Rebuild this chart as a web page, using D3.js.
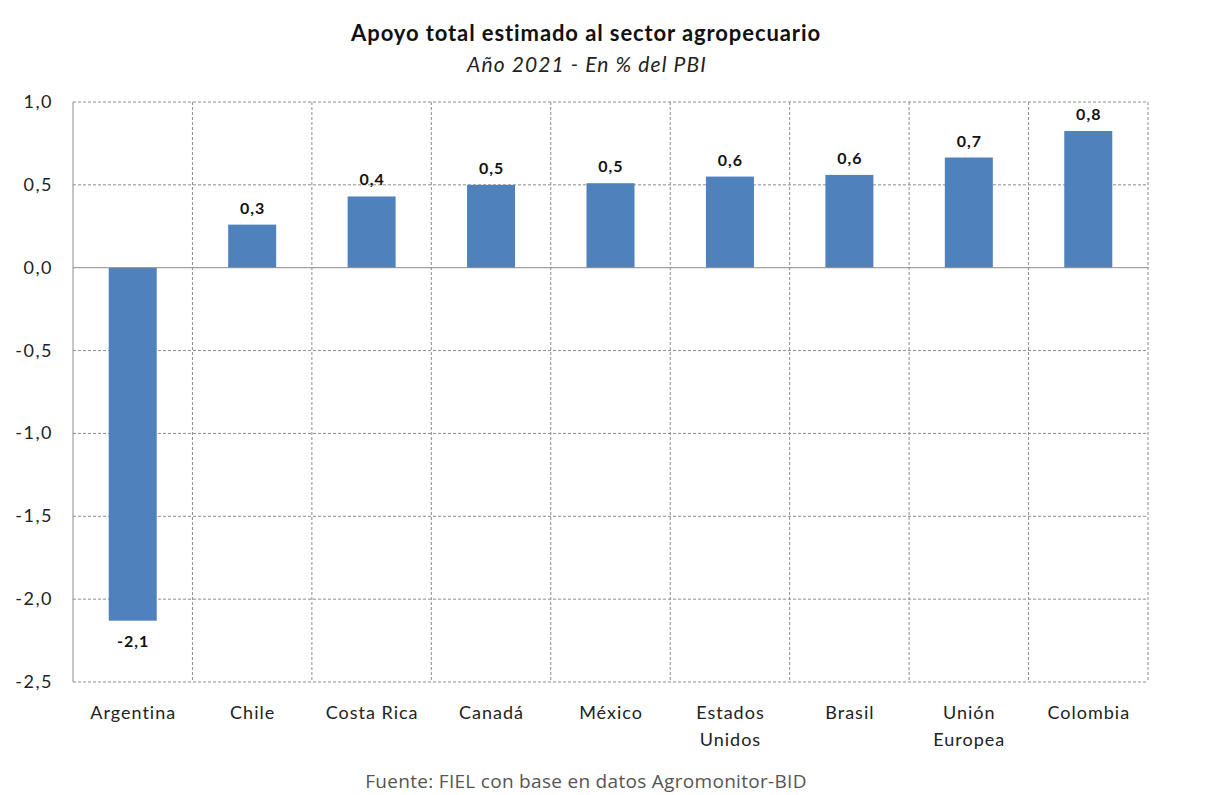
<!DOCTYPE html>
<html><head><meta charset="utf-8">
<script src="https://cdn.jsdelivr.net/npm/d3@7"></script>
<style>
body{margin:0;background:#fff;}
text{font-family:Lato,"Open Sans",sans-serif;}
</style></head>
<body><svg id="c" width="1231" height="795"></svg>
<script>
const categories = [["Argentina"],["Chile"],["Costa Rica"],["Canadá"],["México"],["Estados","Unidos"],["Brasil"],["Unión","Europea"],["Colombia"]];
const values = [-2.13, 0.26, 0.43, 0.50, 0.51, 0.55, 0.56, 0.665, 0.825];
const valueLabels = ["-2,1","0,3","0,4","0,5","0,5","0,6","0,6","0,7","0,8"];
const yTicks = [1.0, 0.5, 0.0, -0.5, -1.0, -1.5, -2.0, -2.5];
const title = "Apoyo total estimado al sector agropecuario";
const subtitle = "Año 2021 - En % del PBI";
const source = "Fuente: FIEL con base en datos Agromonitor-BID";

const svg = d3.select("#c");
const L = 73, R = 1148, T = 102, B = 682;
const x = d3.scaleBand().domain(d3.range(categories.length)).range([L, R]).paddingInner(0).paddingOuter(0);
const y = d3.scaleLinear().domain([-2.5, 1.0]).range([B, T]);
const fmt = v => d3.format(".1f")(v).replace(".", ",").replace("−","-");

// horizontal gridlines
svg.append("g").selectAll("line").data(yTicks.filter(v => v !== 0)).join("line")
  .attr("x1", L).attr("x2", R).attr("y1", d => y(d)).attr("y2", d => y(d))
  .attr("stroke", "#8c8c8c").attr("stroke-width", 1).attr("stroke-dasharray", "3,2");
// vertical gridlines
svg.append("g").selectAll("line").data(d3.range(1, categories.length + 1)).join("line")
  .attr("x1", d => x(d) ?? R).attr("x2", d => x(d) ?? R).attr("y1", T).attr("y2", B)
  .attr("stroke", "#8c8c8c").attr("stroke-width", 1).attr("stroke-dasharray", "3,2");

// bars
svg.append("g").selectAll("rect").data(values).join("rect")
  .attr("x", (d, i) => x(i) + x.bandwidth() / 2 - 24)
  .attr("width", 48)
  .attr("y", d => y(Math.max(0, d)))
  .attr("height", d => Math.abs(y(d) - y(0)))
  .attr("fill", "#4f81bd");

// zero line and left axis
svg.append("line").attr("x1", L).attr("x2", R).attr("y1", y(0)).attr("y2", y(0)).attr("stroke", "#8c8c8c");
svg.append("line").attr("x1", L).attr("x2", L).attr("y1", T).attr("y2", B).attr("stroke", "#8c8c8c");

// y tick labels
svg.append("g").selectAll("text").data(yTicks).join("text")
  .attr("x", 53).attr("y", d => y(d) + 6)
  .attr("text-anchor", "end").attr("font-size", 18).attr("letter-spacing", 1.5).attr("fill", "#222")
  .text(d => fmt(d));

// data labels
svg.append("g").selectAll("text").data(values).join("text")
  .attr("x", (d, i) => x(i) + x.bandwidth() / 2 + 0.5)
  .attr("y", d => d >= 0 ? y(d) - 11 : y(d) + 26)
  .attr("text-anchor", "middle").attr("font-size", 16).attr("letter-spacing", 1).attr("font-weight", "bold").attr("fill", "#111")
  .text((d, i) => valueLabels[i]);

// x labels
const xl = svg.append("g").selectAll("text").data(categories).join("text")
  .attr("text-anchor", "middle").attr("font-size", 18).attr("letter-spacing", 1).attr("fill", "#222");
xl.each(function(lines, i){
  const t = d3.select(this);
  lines.forEach((s, k) => t.append("tspan").attr("x", x(i) + x.bandwidth()/2 + 0.5).attr("y", 719 + k * 27).text(s));
});

// titles
svg.append("text").attr("x", 586).attr("y", 41).attr("text-anchor", "middle")
  .attr("font-size", 22).attr("letter-spacing", 0.9).attr("font-weight", "bold").attr("fill", "#111").text(title);
svg.append("text").attr("x", 587).attr("y", 72).attr("text-anchor", "middle")
  .attr("font-size", 21).attr("letter-spacing", 1.1).attr("font-style", "italic").attr("fill", "#222").text(subtitle);
svg.append("text").attr("x", 586).attr("y", 788).attr("text-anchor", "middle")
  .style("font-family", "'Open Sans'").attr("font-size", 19).attr("letter-spacing", 0.3).attr("fill", "#555").text(source);
</script></body></html>
